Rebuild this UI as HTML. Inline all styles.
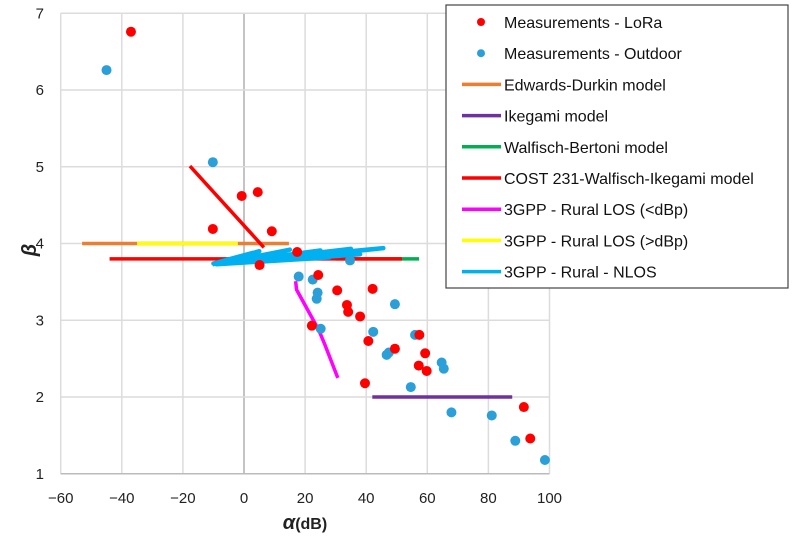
<!DOCTYPE html>
<html><head><meta charset="utf-8"><style>
body{margin:0;background:#fff;width:793px;height:542px;overflow:hidden;font-family:"Liberation Sans",sans-serif}
</style></head><body>
<svg id="chart" width="793" height="542" xmlns="http://www.w3.org/2000/svg" font-family="Liberation Sans, sans-serif"></svg>
<script>
const xTicks=[-60,-40,-20,0,20,40,60,80,100];
const yTicks=[1,2,3,4,5,6,7];
const loraA=[-37,-0.75,4.5,-10.2,9.1,17.4,5.1,24.3,30.5,42.1,33.7,34.1,38,22.2,40.7,49.4,57.4,59.3,57.2,59.8,39.6,91.6,93.7];
const loraB=[6.76,4.62,4.67,4.19,4.16,3.89,3.72,3.59,3.39,3.41,3.20,3.11,3.05,2.93,2.73,2.63,2.81,2.57,2.41,2.34,2.18,1.87,1.46];
const outA=[-45,-10.2,34.7,17.9,22.5,24.1,23.8,25.1,49.4,42.3,46.7,47.4,56,54.6,64.7,65.4,67.9,81.1,88.8,98.5];
const outB=[6.26,5.06,3.78,3.57,3.53,3.36,3.28,2.89,3.21,2.85,2.55,2.58,2.81,2.13,2.45,2.37,1.80,1.76,1.43,1.18];
const edA=[-53,14.7], edB=[4,4];
const ikA=[42,87.8], ikB=[2,2];
const wbA=[30,57.3], wbB=[3.8,3.8];
const costA=[-44,51.7], costB=[3.8,3.8];
const costSlA=[-17.7,6.5], costSlB=[5.01,3.95];
const losLtA=[16.9,17.2,24.5,26.5,30.7], losLtB=[3.51,3.40,2.87,2.68,2.25];
const losGtA=[-35,-2], losGtB=[4,4];
const nlosA=[-10.3,5,-8,15,-5,25,-2,35,0,45.6,3,38,-6,28,-9,18,-7,10,-10,3], nlosB=[3.73,3.90,3.74,3.92,3.75,3.91,3.76,3.93,3.77,3.94,3.76,3.86,3.74,3.82,3.73,3.85,3.75,3.80,3.74,3.88];

const NS="http://www.w3.org/2000/svg";
const svg=document.getElementById('chart');
const X=a=>244+a*3.055;
const Y=b=>13.3+(7-b)*76.75;
function el(t,at,p){const e=document.createElementNS(NS,t);for(const k in at)e.setAttribute(k,at[k]);(p||svg).appendChild(e);return e;}

xTicks.forEach(v=>{
  const g=el('line',{x1:X(v),x2:X(v),y1:Y(7),y2:Y(1),stroke:v===0?'#c4c4c4':'#dcdcdc','stroke-width':v===0?2:1.5});
  
  
  const t=el('text',{x:X(v),y:503,'text-anchor':'middle','font-size':15,fill:'#222'});
  t.textContent=String(v).replace('-','\u2212');
  
  
});
yTicks.forEach(v=>{
  const g=el('line',{x1:X(-60),x2:X(100),y1:Y(v),y2:Y(v),stroke:'#dcdcdc','stroke-width':1.5});
  
  
  const t=el('text',{x:44,y:Y(v)+5,'text-anchor':'end','font-size':15,fill:'#222'});
  t.textContent=v;
  
  
});
const ax=el('line',{x1:X(-60),x2:X(100),y1:Y(1),y2:Y(1),stroke:'#bbb','stroke-width':1.5});



function line(A,B,c,name,w){
  const pts=A.map((a,i)=>X(a)+','+Y(B[i])).join(' ');
  const p=el('polyline',{points:pts,fill:'none',stroke:c,'stroke-width':w||3.5,'stroke-linejoin':'round'});
  
  
}
line(edA,edB,'#ed7d31','edwards-durkin-line');
line(losGtA,losGtB,'#ffff00','3gpp-los-gt-line');
line(wbA,wbB,'#00b050','walfisch-bertoni-line');
line(costA,costB,'#ff0000','cost231-line');
line(ikA,ikB,'#7030a0','ikegami-line');
line(nlosA,nlosB,'#00b0f0','3gpp-nlos-line',4.5);
line(costSlA,costSlB,'#ff0000','cost231-slanted-line');
line(losLtA,losLtB,'#ff00ff','3gpp-los-lt-line');

outA.forEach((a,i)=>{
  const c=el('circle',{cx:X(a),cy:Y(outB[i]),r:5,fill:'#2a9fd8'});
  
  
});
loraA.forEach((a,i)=>{
  const c=el('circle',{cx:X(a),cy:Y(loraB[i]),r:5,fill:'#ff0000'});
  
  
});

const yl=el('text',{x:36,y:250,'text-anchor':'middle','font-size':20,'font-style':'italic','font-weight':'bold',fill:'#222',transform:'rotate(-90 36 250)'});
yl.textContent='β';


const xl=el('text',{x:305,y:529,'text-anchor':'middle','font-size':16,'font-weight':'bold',fill:'#222'});
xl.innerHTML='<tspan font-style="italic" font-size="20">α</tspan>(dB)';



const lg=el('g',{});


el('rect',{x:446,y:5,width:342,height:283,fill:'#fff',stroke:'#444','stroke-width':1.2},lg);
const items=[['Measurements - LoRa','#ff0000',1],['Measurements - Outdoor','#2a9fd8',1],['Edwards-Durkin model','#ed7d31',0],['Ikegami model','#7030a0',0],['Walfisch-Bertoni model','#00b050',0],['COST 231-Walfisch-Ikegami model','#ff0000',0],['3GPP - Rural LOS (<dBp)','#ff00ff',0],['3GPP - Rural LOS (>dBp)','#ffff00',0],['3GPP - Rural - NLOS','#00b0f0',0]];
items.forEach((it,i)=>{
  const y=22+i*31.2;
  const g=el('g',{},lg);
  
  
  if(it[2]) el('circle',{cx:481,cy:y,r:4,fill:it[1]},g);
  else el('line',{x1:462,x2:501,y1:y,y2:y,stroke:it[1],'stroke-width':3.5},g);
  const t=el('text',{x:504,y:y+6,'font-size':16,fill:'#111'},g);
  t.textContent=it[0];
});
</script>
</body></html>
